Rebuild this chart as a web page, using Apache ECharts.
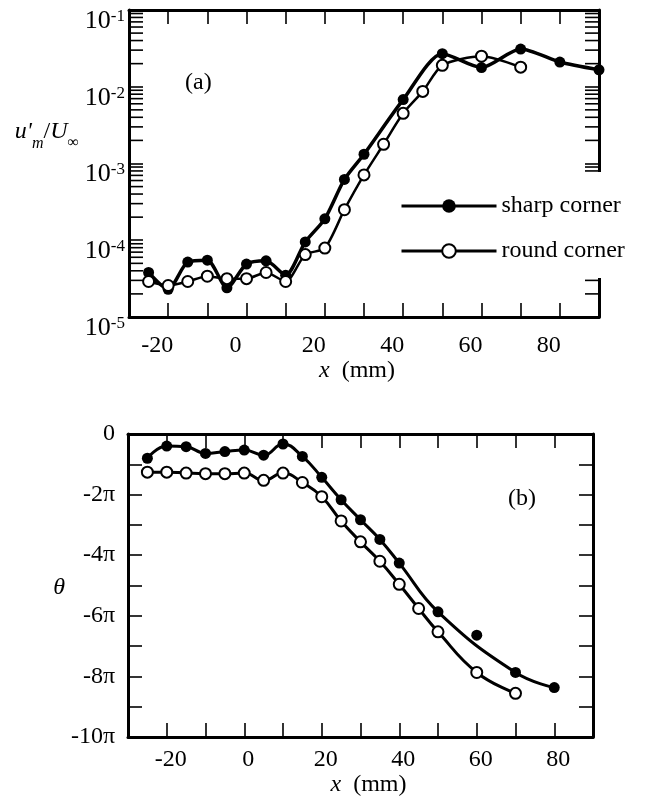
<!DOCTYPE html>
<html><head><meta charset="utf-8">
<script src="https://cdn.jsdelivr.net/npm/echarts@6/dist/echarts.min.js"></script>
<style>html,body{margin:0;padding:0;background:#fff}#c{width:655px;height:798px}</style>
</head><body><div id="c"></div>
<script>
// ---- data ----
const xSharpA = [-25,-20,-15,-10,-5,0,5,10,15,20,25,30,40,50,60,70,80,90];
const ampSharp = [3.8e-5,2.3e-5,5.2e-5,5.5e-5,2.4e-5,4.9e-5,5.4e-5,3.5e-5,9.5e-5,1.9e-4,6.2e-4,1.32e-3,6.8e-3,2.7e-2,1.78e-2,3.1e-2,2.1e-2,1.66e-2];
const xRoundA = [-25,-20,-15,-10,-5,0,5,10,15,20,25,30,35,40,45,50,60,70];
const ampRound = [2.9e-5,2.57e-5,2.9e-5,3.4e-5,3.16e-5,3.16e-5,3.8e-5,2.9e-5,6.5e-5,7.9e-5,2.5e-4,7.1e-4,1.78e-3,4.5e-3,8.7e-3,1.9e-2,2.5e-2,1.8e-2];
const xSharpB = [-25,-20,-15,-10,-5,0,5,10,15,20,25,30,35,40,50,60,70,80];
const phaseSharp = [-0.80,-0.40,-0.42,-0.64,-0.58,-0.53,-0.70,-0.33,-0.74,-1.43,-2.17,-2.83,-3.48,-4.26,-5.87,-6.64,-7.87,-8.37]; // in units of pi
const xRoundB = [-25,-20,-15,-10,-5,0,5,10,15,20,25,30,35,40,45,50,60,70];
const phaseRound = [-1.26,-1.26,-1.29,-1.31,-1.31,-1.29,-1.53,-1.29,-1.60,-2.07,-2.87,-3.56,-4.20,-4.96,-5.76,-6.53,-7.87,-8.56];
const phaseFitExcluded = [60];           // sharp-corner point not on the drawn curve
const xTickLabels = [-20,0,20,40,60,80];
const ampDecades = [1e-5,1e-4,1e-3,1e-2,1e-1];
const ampMinorFactors = [2,3,4,5,6,7,8,9];
const phaseTickLabels = [0,-2,-4,-6,-8,-10];
const seriesNames = ['sharp corner','round corner'];

// ---- styling ----
const SERIF = '"Liberation Serif", "DejaVu Serif", serif';
const X_MIN = -30, X_MAX = 90;
const TICK = 14;
const zip = (xs, ys) => xs.map((x, i) => [x, ys[i]]);

const minorVals = [];
ampDecades.slice(0, -1).forEach(d => ampMinorFactors.forEach(f => minorVals.push(d * f)));

const axisLineStyle = {onZero: false, lineStyle: {color: '#000', width: 3}};
const tickStyle = {inside: true, length: TICK, lineStyle: {color: '#000', width: 1.6}};

const baseLabel = {fontFamily: SERIF, fontSize: 24, color: '#000'};
const richName = {
  i: {fontFamily: SERIF, fontStyle: 'italic', fontSize: 24, lineHeight: 28, verticalAlign: 'top', color: '#000'},
  n: {fontFamily: SERIF, fontSize: 24, lineHeight: 28, verticalAlign: 'top', color: '#000'},
  s: {fontFamily: SERIF, fontStyle: 'italic', fontSize: 16, lineHeight: 16, verticalAlign: 'top', padding: [16,0,0,0], color: '#000'},
  si: {fontFamily: SERIF, fontSize: 16, lineHeight: 16, verticalAlign: 'top', padding: [15,0,0,0], color: '#000'}
};

const chart = echarts.init(document.getElementById('c'), null, {renderer: 'canvas'});
const option = {
  animation: false,
  backgroundColor: '#fff',
  grid: [
    {left: 129, top: 10, width: 470, height: 307, containLabel: false, outerBoundsMode: 'none'},
    {left: 128, top: 434, width: 465, height: 303, containLabel: false, outerBoundsMode: 'none'}
  ],
  xAxis: [
    {gridIndex: 0, type: 'value', position: 'bottom', min: X_MIN, max: X_MAX, interval: 10,
     axisLine: axisLineStyle, axisTick: tickStyle, splitLine: {show: false},
     axisLabel: Object.assign({}, baseLabel, {margin: 17, padding: [0, 22, 0, 0],
       formatter: v => xTickLabels.includes(v) ? String(v) : ''}),
     name: '{i|x}{n|  (mm)}', nameLocation: 'middle', nameGap: 40,
     nameTextStyle: {rich: richName, padding: [0, 14, 0, 0]}},
    {gridIndex: 0, type: 'value', position: 'top', min: X_MIN, max: X_MAX, interval: 10,
     axisLine: axisLineStyle, axisTick: tickStyle, axisLabel: {show: false}, splitLine: {show: false}},
    {gridIndex: 1, type: 'value', position: 'bottom', min: X_MIN, max: X_MAX, interval: 10,
     axisLine: axisLineStyle, axisTick: tickStyle, splitLine: {show: false},
     axisLabel: Object.assign({}, baseLabel, {margin: 11, padding: [0, 0, 0, 8],
       formatter: v => xTickLabels.includes(v) ? String(v) : ''}),
     name: '{i|x}{n|  (mm)}', nameLocation: 'middle', nameGap: 27,
     nameTextStyle: {rich: richName, padding: [0, 0, 0, 16]}},
    {gridIndex: 1, type: 'value', position: 'top', min: X_MIN, max: X_MAX, interval: 10,
     axisLine: axisLineStyle, axisTick: tickStyle, axisLabel: {show: false}, splitLine: {show: false}}
  ],
  yAxis: [
    {gridIndex: 0, type: 'log', logBase: 10, position: 'left', min: ampDecades[0], max: ampDecades[ampDecades.length - 1],
     axisLine: axisLineStyle, axisTick: tickStyle, splitLine: {show: false}, minorTick: {show: false},
     axisLabel: {margin: 4, padding: [24, 0, 0, 0],
       formatter: v => '{b|10}{s|' + Math.round(Math.log10(v)) + '}',
       rich: {
         b: {fontFamily: SERIF, fontSize: 26, lineHeight: 28, verticalAlign: 'top', color: '#000'},
         s: {fontFamily: SERIF, fontSize: 17, lineHeight: 17, verticalAlign: 'top', color: '#000'}
       }},
     name: "{i|u'}{s|m}{n|/}{i|U}{si|∞}", nameLocation: 'middle', nameRotate: 0, nameGap: 46,
     nameTextStyle: {rich: richName, padding: [0, 0, 60, 0]}},
    {gridIndex: 0, type: 'log', logBase: 10, position: 'right', min: ampDecades[0], max: ampDecades[ampDecades.length - 1],
     axisLine: axisLineStyle, axisTick: tickStyle, splitLine: {show: false}, axisLabel: {show: false}},
    {gridIndex: 1, type: 'value', position: 'left', min: -10, max: 0, interval: 1,
     axisLine: axisLineStyle, axisTick: tickStyle, splitLine: {show: false},
     axisLabel: Object.assign({}, baseLabel, {margin: 13, padding: [10, 0, 0, 0],
       formatter: v => phaseTickLabels.includes(v) ? (v === 0 ? '0' : v + 'π') : ''}),
     name: '{i|θ}', nameLocation: 'middle', nameRotate: 0, nameGap: 53,
     nameTextStyle: {rich: richName, padding: [8, 0, 0, 0]}},
    {gridIndex: 1, type: 'value', position: 'right', min: -10, max: 0, interval: 1,
     axisLine: axisLineStyle, axisTick: tickStyle, splitLine: {show: false}, axisLabel: {show: false}}
  ],
  legend: {
    data: seriesNames, orient: 'vertical', left: 395, top: 172,
    padding: [22, 5, 15, 5], backgroundColor: '#fff',
    itemWidth: 95, itemHeight: 17, itemGap: 21, selectedMode: false,
    lineStyle: {width: 3, color: '#000'},
    textStyle: {fontFamily: SERIF, fontSize: 24, color: '#000', lineHeight: 24}
  },
  graphic: [
    {type: 'text', left: 185, top: 71, style: {text: '(a)', font: '24px ' + SERIF, fill: '#000'}},
    {type: 'text', left: 508, top: 487, style: {text: '(b)', font: '24px ' + SERIF, fill: '#000'}}
  ],
  series: [
    {name: seriesNames[0], type: 'line', xAxisIndex: 0, yAxisIndex: 0, data: zip(xSharpA, ampSharp),
     symbol: 'circle', symbolSize: 11, smooth: 0.25, z: 3,
     itemStyle: {color: '#000', opacity: 1}, lineStyle: {color: '#000', width: 3.5}, emphasis: {disabled: true}},
    {name: seriesNames[1], type: 'line', xAxisIndex: 0, yAxisIndex: 0, data: zip(xRoundA, ampRound),
     symbol: 'circle', symbolSize: 11, smooth: 0.25, z: 4,
     itemStyle: {color: '#fff', borderColor: '#000', borderWidth: 2, opacity: 1}, lineStyle: {color: '#000', width: 2.5}, emphasis: {disabled: true}},
    {name: seriesNames[0], type: 'line', xAxisIndex: 2, yAxisIndex: 2,
     data: zip(xSharpB, phaseSharp).filter(p => !phaseFitExcluded.includes(p[0])),
     symbol: 'none', smooth: 0.45, z: 3, lineStyle: {color: '#000', width: 3}, emphasis: {disabled: true}},
    {name: seriesNames[0], type: 'scatter', xAxisIndex: 2, yAxisIndex: 2, data: zip(xSharpB, phaseSharp),
     symbol: 'circle', symbolSize: 11, z: 4, itemStyle: {color: '#000', opacity: 1}, emphasis: {disabled: true}},
    {name: seriesNames[1], type: 'line', xAxisIndex: 2, yAxisIndex: 2, data: zip(xRoundB, phaseRound),
     symbol: 'circle', symbolSize: 11, smooth: 0.45, z: 4,
     itemStyle: {color: '#fff', borderColor: '#000', borderWidth: 2, opacity: 1}, lineStyle: {color: '#000', width: 3}, emphasis: {disabled: true}},
    {name: 'minor ticks', type: 'custom', xAxisIndex: 0, yAxisIndex: 0, silent: true, clip: false, z: 2,
     data: minorVals.map(v => [X_MIN, v]),
     renderItem(params, api) {
       const v = api.value(1);
       const pl = api.coord([X_MIN, v]);
       const pr = api.coord([X_MAX, v]);
       const st = {stroke: '#000', lineWidth: 1.6};
       return {type: 'group', children: [
         {type: 'line', shape: {x1: pl[0], y1: pl[1], x2: pl[0] + TICK, y2: pl[1]}, style: st},
         {type: 'line', shape: {x1: pr[0] - TICK, y1: pr[1], x2: pr[0], y2: pr[1]}, style: st}
       ]};
     }}
  ]
};
chart.setOption(option);
</script></body></html>
